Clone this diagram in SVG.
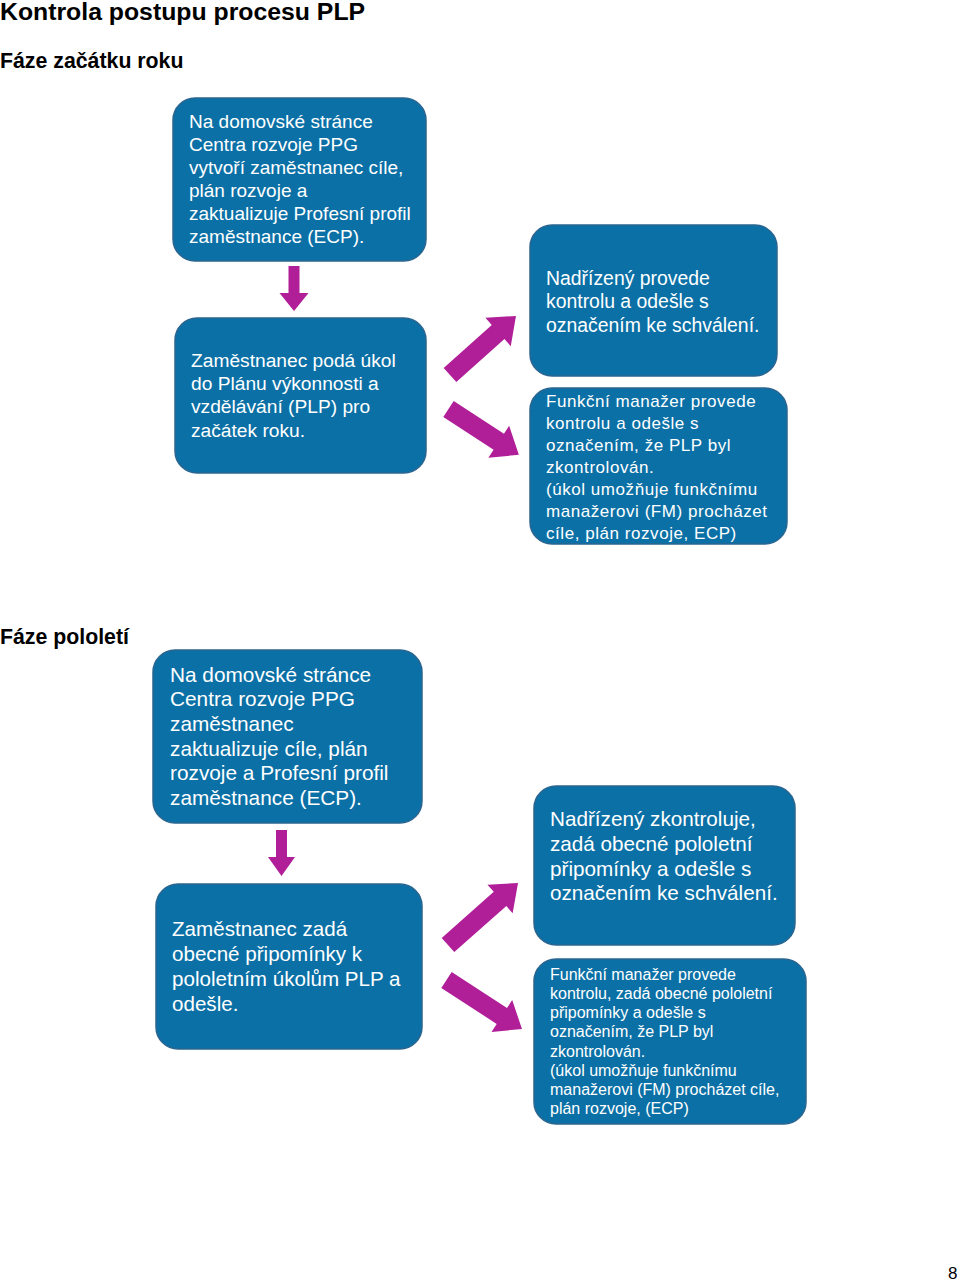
<svg xmlns="http://www.w3.org/2000/svg" width="960" height="1281" viewBox="0 0 960 1281">
<style>
.box{fill:#0B70A6;stroke:#2B6590;stroke-width:1.5}
.t{fill:#fff;font-family:"Liberation Sans",Arial,sans-serif}
.h{fill:#000;font-family:"Liberation Sans",Arial,sans-serif;font-weight:bold}
.arr{fill:#B01E98}
</style>
<rect width="960" height="1281" fill="#fff"/>
<text class="h" x="0" y="20" font-size="24.8">Kontrola postupu procesu PLP</text>
<text class="h" x="0" y="68" font-size="21.3">Fáze začátku roku</text>
<text class="h" x="0" y="644" font-size="21.3">Fáze pololetí</text>
<text class="t" x="948" y="1279" font-size="17" style="fill:#000">8</text>

<g id="n1">
<rect class="box" x="173" y="98" width="253" height="163" rx="22"/>
<text class="t" font-size="19">
<tspan x="189" y="128">Na domovské stránce</tspan>
<tspan x="189" y="151">Centra rozvoje PPG</tspan>
<tspan x="189" y="174">vytvoří zaměstnanec cíle,</tspan>
<tspan x="189" y="197">plán rozvoje a</tspan>
<tspan x="189" y="220">zaktualizuje Profesní profil</tspan>
<tspan x="189" y="243">zaměstnance (ECP).</tspan>
</text>
</g>
<g id="n2">
<rect class="box" x="175" y="318" width="251" height="155" rx="22"/>
<text class="t" font-size="19.2">
<tspan x="191" y="367">Zaměstnanec podá úkol</tspan>
<tspan x="191" y="390">do Plánu výkonnosti a</tspan>
<tspan x="191" y="413">vzdělávání (PLP) pro</tspan>
<tspan x="191" y="437">začátek roku.</tspan>
</text>
</g>
<g id="n3">
<rect class="box" x="530" y="225" width="247" height="151" rx="22"/>
<text class="t" font-size="19.4">
<tspan x="546" y="285">Nadřízený provede</tspan>
<tspan x="546" y="308">kontrolu a odešle s</tspan>
<tspan x="546" y="332">označením ke schválení.</tspan>
</text>
</g>
<g id="n4">
<rect class="box" x="530" y="388" width="257" height="156" rx="22"/>
<text class="t" font-size="17" letter-spacing="0.55">
<tspan x="546" y="407">Funkční manažer provede</tspan>
<tspan x="546" y="429">kontrolu a odešle s</tspan>
<tspan x="546" y="451">označením, že PLP byl</tspan>
<tspan x="546" y="473">zkontrolován.</tspan>
<tspan x="546" y="495">(úkol umožňuje funkčnímu</tspan>
<tspan x="546" y="517">manažerovi (FM) procházet</tspan>
<tspan x="546" y="539">cíle, plán rozvoje, ECP)</tspan>
</text>
</g>

<g id="n5">
<rect class="box" x="153" y="650" width="269" height="173" rx="22"/>
<text class="t" font-size="20.8">
<tspan x="170" y="682">Na domovské stránce</tspan>
<tspan x="170" y="706">Centra rozvoje PPG</tspan>
<tspan x="170" y="731">zaměstnanec</tspan>
<tspan x="170" y="756">zaktualizuje cíle, plán</tspan>
<tspan x="170" y="780">rozvoje a Profesní profil</tspan>
<tspan x="170" y="805">zaměstnance (ECP).</tspan>
</text>
</g>
<g id="n6">
<rect class="box" x="156" y="884" width="266" height="165" rx="22"/>
<text class="t" font-size="20.6">
<tspan x="172" y="936">Zaměstnanec zadá</tspan>
<tspan x="172" y="961">obecné připomínky k</tspan>
<tspan x="172" y="986">pololetním úkolům PLP a</tspan>
<tspan x="172" y="1011">odešle.</tspan>
</text>
</g>
<g id="n7">
<rect class="box" x="534" y="786" width="261" height="159" rx="22"/>
<text class="t" font-size="20.7">
<tspan x="550" y="826">Nadřízený zkontroluje,</tspan>
<tspan x="550" y="851">zadá obecné pololetní</tspan>
<tspan x="550" y="876">připomínky a odešle s</tspan>
<tspan x="550" y="900">označením ke schválení.</tspan>
</text>
</g>
<g id="n8">
<rect class="box" x="534" y="959" width="272" height="165" rx="22"/>
<text class="t" font-size="16">
<tspan x="550" y="980">Funkční manažer provede</tspan>
<tspan x="550" y="999">kontrolu, zadá obecné pololetní</tspan>
<tspan x="550" y="1018">připomínky a odešle s</tspan>
<tspan x="550" y="1037">označením, že PLP byl</tspan>
<tspan x="550" y="1057">zkontrolován.</tspan>
<tspan x="550" y="1076">(úkol umožňuje funkčnímu</tspan>
<tspan x="550" y="1095">manažerovi (FM) procházet cíle,</tspan>
<tspan x="550" y="1114">plán rozvoje, (ECP)</tspan>
</text>
</g>

<g id="connectors">
<polygon class="arr" points="288.5,266 299.5,266 299.5,293 308.5,293 294,311 279.5,293 288.5,293"/>
<polygon class="arr" points="276,830 287,830 287,857 295,857 281.5,876 268,857 276,857"/>
<path class="arr" transform="translate(450,375) rotate(-41.8)" d="M0,-9.5 L64.5,-9.5 L64.5,-19 L88.5,0 L64.5,19 L64.5,9.5 L0,9.5 Z"/>
<path class="arr" transform="translate(448.5,409) rotate(33.1)" d="M0,-9.5 L60,-9.5 L60,-19 L84,0 L60,19 L60,9.5 L0,9.5 Z"/>
<path class="arr" transform="translate(448,945) rotate(-41.5)" d="M0,-9.5 L69.5,-9.5 L69.5,-19 L93.5,0 L69.5,19 L69.5,9.5 L0,9.5 Z"/>
<path class="arr" transform="translate(446.5,980) rotate(33)" d="M0,-9.5 L66,-9.5 L66,-19 L90,0 L66,19 L66,9.5 L0,9.5 Z"/>
</g>
</svg>
